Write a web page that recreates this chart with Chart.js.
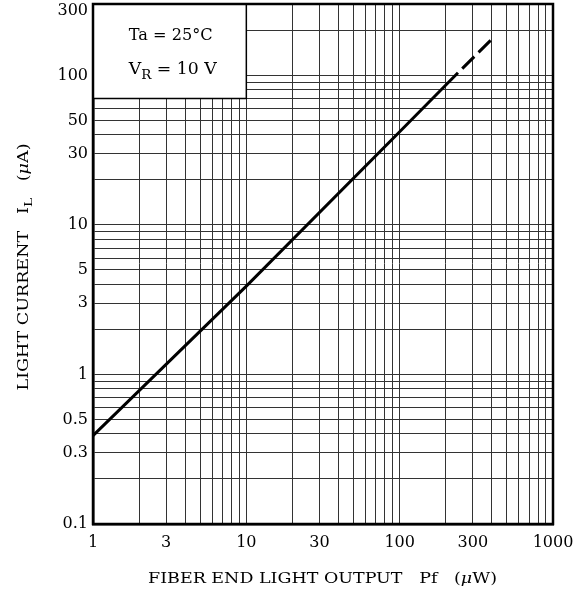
<!DOCTYPE html>
<html>
<head>
<meta charset="utf-8">
<script src="https://cdn.jsdelivr.net/npm/chart.js@4"></script>
<style>
html,body{margin:0;padding:0;background:#fff;}
#wrap{position:relative;width:583px;height:591px;}
</style>
</head>
<body>
<div id="wrap"><canvas id="c" width="583" height="591"></canvas></div>
<script>
// ---- data ----
const xLabels = [1, 3, 10, 30, 100, 300, 1000];
const yLabels = [0.1, 0.3, 0.5, 1, 3, 5, 10, 30, 50, 100, 300];
const xGridValues = [1,2,3,4,5,6,7,8,9,10,20,30,40,50,60,70,80,90,100,200,300,400,500,600,700,800,900,1000];
const yGridValues = [0.1,0.2,0.3,0.4,0.5,0.6,0.7,0.8,0.9,1,2,3,4,5,6,7,8,9,10,20,30,40,50,60,70,80,90,100,200,300];
const solidPf = [1, 10, 100, 240];
const solidIL = [0.39, 3.9, 42, 104];
const dashPf = [240, 400];
const dashIL = [104, 175];
const noteBoxPf = [1, 10];
const noteBoxIL = [70, 300];
const noteLines = ['Ta = 25°C', 'V_R = 10 V'];

const FONT = '"DejaVu Serif", serif';

function pts(xs, ys){ return xs.map((x,i)=>({x:x, y:ys[i]})); }
function near(a,b){ return Math.abs(a-b) < 1e-9*Math.max(1,Math.abs(b)); }

// draw centred text made of parts; optional subscripts / italics; optional target width
function drawRich(ctx, parts, x, y, size, targetW){
  let w = 0;
  const meas = parts.map(p=>{
    const fs = p.sub ? size*0.78 : size;
    ctx.font = (p.italic?'italic ':'') + fs + 'px ' + FONT;
    const mw = ctx.measureText(p.t).width;
    w += mw;
    return {p, fs, mw};
  });
  const sx = targetW ? targetW / w : 1;
  ctx.save();
  ctx.translate(x - w*sx/2, y);
  ctx.scale(sx, 1);
  let cx = 0;
  meas.forEach(m=>{
    ctx.font = (m.p.italic?'italic ':'') + m.fs + 'px ' + FONT;
    ctx.fillText(m.p.t, cx, m.p.sub ? size*0.28 : 0);
    cx += m.mw;
  });
  ctx.restore();
}

const overlay = {
  id: 'overlay',
  beforeDatasetsDraw(chart){
    const ctx = chart.ctx, xs = chart.scales.x, ys = chart.scales.y, ca = chart.chartArea;
    const x0 = xs.getPixelForValue(noteBoxPf[0]), x1 = xs.getPixelForValue(noteBoxPf[1]);
    const y0 = ys.getPixelForValue(noteBoxIL[1]), y1 = ys.getPixelForValue(noteBoxIL[0]);
    ctx.save();
    ctx.fillStyle = '#fff';
    ctx.fillRect(x0, y0, x1-x0, y1-y0);
    ctx.strokeStyle = '#000';
    ctx.lineWidth = 1.5;
    ctx.beginPath();
    ctx.moveTo(x1, y0); ctx.lineTo(x1, y1); ctx.lineTo(x0, y1);
    ctx.stroke();
    // chart frame
    ctx.lineWidth = 2.5;
    ctx.strokeRect(ca.left, ca.top, ca.right-ca.left, ca.bottom-ca.top);
    // note text
    ctx.fillStyle = '#000';
    ctx.textBaseline = 'alphabetic';
    const cx = (x0+x1)/2 + 1;
    drawRich(ctx, [{t: noteLines[0]}], cx, 40, 16.5, 84);
    drawRich(ctx, [{t:'V'},{t:'R',sub:true},{t:' = 10 V'}], cx + 2, 74, 16.5, 88);
    ctx.restore();
  },
  afterDraw(chart){
    const ctx = chart.ctx, ca = chart.chartArea;
    ctx.save();
    ctx.fillStyle = '#000';
    ctx.textBaseline = 'alphabetic';
    // x title
    drawRich(ctx, [{t:'FIBER END LIGHT OUTPUT   Pf   ('},{t:'μ',italic:true},{t:'W)'}], 322.5, 583, 15, 349);
    // y title
    ctx.translate(28, 267);
    ctx.rotate(-Math.PI/2);
    drawRich(ctx, [{t:'LIGHT CURRENT   I'},{t:'L',sub:true},{t:'   ('},{t:'μ',italic:true},{t:'A)'}], 0, 0, 15, 247);
    ctx.restore();
  }
};

const gridColor = '#333';

new Chart(document.getElementById('c'), {
  type: 'line',
  data: {
    datasets: [
      { data: pts(solidPf, solidIL), borderColor: '#000', borderWidth: 3, pointRadius: 0, fill: false, tension: 0 },
      { data: pts(dashPf, dashIL), borderColor: '#000', borderWidth: 3, borderDash: [17, 6], borderDashOffset: 17, pointRadius: 0, fill: false, tension: 0 }
    ]
  },
  options: {
    responsive: false,
    animation: false,
    events: [],
    layout: { padding: { left: 0, top: 4, right: 30, bottom: 0 } },
    plugins: { legend: { display: false }, tooltip: { enabled: false }, title: { display: false } },
    scales: {
      x: {
        type: 'logarithmic', min: 1, max: 1000,
        afterBuildTicks: s => { s.ticks = xGridValues.map(v => ({ value: v })); },
        afterFit: s => { s.height = 67; s.paddingLeft = 0; s.paddingRight = 0; },
        ticks: {
          autoSkip: false, maxRotation: 0, padding: 9, color: '#000',
          font: { family: FONT, size: 16 },
          callback: v => xLabels.some(l => near(l, v)) ? String(v) : ''
        },
        grid: { color: gridColor, lineWidth: 1, drawTicks: false },
        border: { display: true, color: '#000', width: 2.5 }
      },
      y: {
        type: 'logarithmic', min: 0.1, max: 300,
        afterBuildTicks: s => { s.ticks = yGridValues.map(v => ({ value: v })); },
        afterFit: s => { s.width = 93; s.paddingTop = 0; s.paddingBottom = 0; },
        ticks: {
          autoSkip: false, padding: 5, color: '#000',
          font: c => ({ family: FONT, size: 16, lineHeight: (c.tick && near(c.tick.value, 300)) ? 0.9 : 1.2 }),
          callback: v => {
            if (!yLabels.some(l => near(l, v))) return '';
            if (near(v, 300)) return ['', '300'];
            return String(v);
          }
        },
        grid: { color: gridColor, lineWidth: 1, drawTicks: false },
        border: { display: true, color: '#000', width: 2.5 }
      }
    }
  },
  plugins: [overlay]
});
</script>
</body>
</html>
